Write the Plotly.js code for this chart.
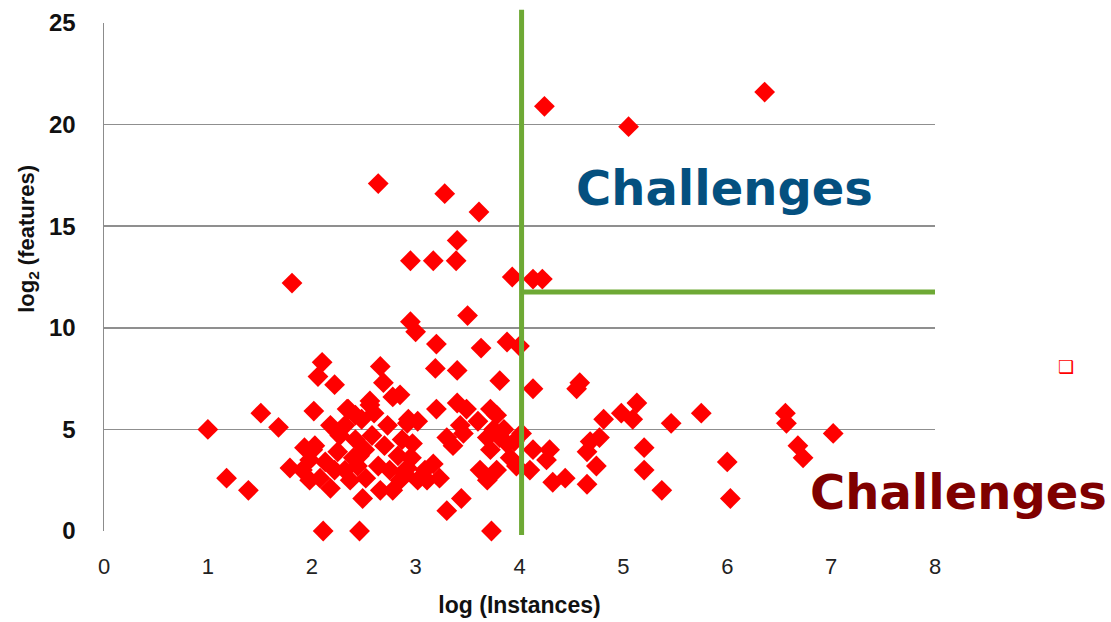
<!DOCTYPE html>
<html>
<head>
<meta charset="utf-8">
<script src="https://cdn.plot.ly/plotly-3.0.1.min.js"></script>
<style>html,body{margin:0;padding:0;background:#fff;}#chart{width:1111px;height:622px;}</style>
</head>
<body>
<div id="chart"></div>
<script>
// log(Instances)
var logInstances = [
  6.36, 4.24, 5.05, 2.64, 3.28, 3.61, 3.40, 1.81, 2.95, 3.17, 3.39, 3.93, 4.13, 4.22,
  2.95, 3.00, 3.50, 3.20, 3.63, 3.88, 4.00, 2.10, 2.06, 2.22, 1.51, 1.00, 1.68, 2.02,
  1.18, 1.39, 2.11, 2.46, 2.49, 2.66, 2.69, 2.78, 3.19, 3.40, 3.81, 4.13, 4.55, 4.58,
  5.13, 4.98, 5.09, 4.81, 4.77, 4.68, 4.65, 4.74, 5.46, 5.75, 6.56, 6.57, 6.68, 6.73,
  7.02, 5.20, 5.20, 5.37, 6.00, 6.03, 4.29, 4.26, 4.13, 4.10, 4.32, 4.44, 4.65, 3.73,
  3.30, 3.44, 2.18, 1.91, 2.01, 1.98, 2.78, 2.56, 2.34, 3.20, 3.40, 3.49, 3.72, 2.92,
  3.02, 3.30, 3.36, 3.46, 3.43, 3.69, 3.72, 3.81, 3.88, 3.91, 3.62, 3.69, 3.78, 3.97,
  2.95, 2.97, 2.92, 2.85, 3.17, 3.11, 3.23, 2.85, 3.78,
  1.79, 1.93, 2.03, 1.98, 2.08, 2.13, 2.22, 2.25, 2.27, 2.32, 2.35, 2.42, 2.44, 2.48,
  2.51, 2.52, 2.58, 2.64, 2.66, 2.70, 2.73, 2.75, 2.83, 2.87, 2.90, 2.93, 2.96, 3.02,
  3.09, 2.56, 2.42, 2.18, 2.37, 2.32, 2.46, 3.95, 4.02, 3.85, 3.60, 3.75, 2.60, 2.40
];
// log2(features)
var log2Features = [
  21.6, 20.9, 19.9, 17.1, 16.6, 15.7, 14.3, 12.2, 13.3, 13.3, 13.3, 12.5, 12.4, 12.4,
  10.3, 9.8, 10.6, 9.2, 9.0, 9.3, 9.1, 8.3, 7.6, 7.2, 5.8, 5.0, 5.1, 5.9,
  2.6, 2.0, 0.0, 0.0, 1.6, 8.1, 7.3, 6.6, 8.0, 7.9, 7.4, 7.0, 7.0, 7.3,
  6.3, 5.8, 5.5, 5.5, 4.6, 4.4, 3.9, 3.2, 5.3, 5.8, 5.8, 5.3, 4.2, 3.6,
  4.8, 4.1, 3.0, 2.0, 3.4, 1.6, 4.0, 3.5, 4.0, 3.0, 2.4, 2.6, 2.3, 0.0,
  1.0, 1.6, 2.1, 3.0, 4.0, 2.5, 2.0, 6.4, 6.0, 6.0, 6.3, 6.0, 6.0, 5.3,
  5.4, 4.6, 4.2, 4.8, 5.2, 4.6, 4.0, 4.6, 4.3, 3.6, 3.0, 2.5, 3.0, 3.2,
  3.6, 4.3, 3.1, 2.5, 3.3, 2.5, 2.6, 6.7, 5.7,
  3.1, 4.1, 4.2, 3.5, 2.6, 3.4, 3.0, 3.9, 4.7, 5.2, 6.0, 4.5, 3.2, 5.5,
  4.0, 2.6, 4.7, 3.2, 2.0, 4.2, 5.2, 3.0, 3.7, 4.5, 2.8, 5.5, 3.6, 2.5,
  3.0, 6.2, 5.7, 5.2, 2.5, 3.0, 3.7, 4.4, 4.8, 5.0, 5.4, 5.0, 5.8, 3.6
];
var xTicks = [0, 1, 2, 3, 4, 5, 6, 7, 8];
var yTicks = [0, 5, 10, 15, 20, 25];
var splitX = 4.02;
var splitY = 11.76;
var xMax = 8.02;
var labels = ["Challenges", "Challenges"];

var trace = {
  type: 'scatter', mode: 'markers',
  x: logInstances, y: log2Features,
  marker: {symbol: 'diamond', size: 16, color: '#ff0000', line: {width: 0}},
  cliponaxis: false, hoverinfo: 'x+y'
};

var layout = {
  width: 1111, height: 622,
  margin: {l: 104, r: 176, t: 23, b: 91},
  paper_bgcolor: '#ffffff', plot_bgcolor: '#ffffff',
  showlegend: false,
  xaxis: {
    range: [0, 8], tickvals: xTicks, ticktext: xTicks.map(String),
    showgrid: false, zeroline: false, showline: false, ticks: '',
    ticklabelstandoff: 20,
    tickfont: {family: 'Liberation Sans, Arial, sans-serif', size: 22, color: '#222'},
    title: {text: 'log (Instances)', standoff: 18,
      font: {family: 'Liberation Sans, Arial, sans-serif', size: 23, color: '#111', weight: 'bold'}}
  },
  yaxis: {
    range: [0, 25], tickvals: yTicks, ticktext: yTicks.map(String),
    showgrid: true, gridcolor: '#8f8f8f', gridwidth: 1.5,
    zeroline: false, showline: true, linecolor: '#8c8c8c', linewidth: 1.5,
    ticks: '', ticklabelstandoff: 22,
    tickfont: {family: 'Liberation Sans, Arial, sans-serif', size: 24, color: '#111', weight: 'bold'}
  },
  shapes: [
    {type: 'line', xref: 'x', yref: 'paper', x0: splitX, x1: splitX, y0: -0.008, y1: 1.026,
     line: {color: '#6ea935', width: 5}},
    {type: 'line', xref: 'x', yref: 'y', x0: splitX, x1: xMax, y0: splitY, y1: splitY,
     line: {color: '#6ea935', width: 5}}
  ],
  annotations: [
    {xref: 'paper', yref: 'paper', x: -0.0915, y: 0.575, xanchor: 'center', yanchor: 'middle',
     textangle: -90, showarrow: false,
     text: 'log<sub>2</sub> (features)',
     font: {family: 'Liberation Sans, Arial, sans-serif', size: 22, color: '#111', weight: 'bold'}},
    {xref: 'paper', yref: 'paper', x: 0.747, y: 0.675, xanchor: 'center', yanchor: 'middle',
     showarrow: false, text: labels[0],
     font: {family: 'DejaVu Sans, sans-serif', size: 48, color: '#04507f', weight: 'bold'}},
    {xref: 'paper', yref: 'paper', x: 1.028, y: 0.077, xanchor: 'center', yanchor: 'middle',
     showarrow: false, text: labels[1],
     font: {family: 'DejaVu Sans, sans-serif', size: 48, color: '#7f0000', weight: 'bold'}},
    {xref: 'paper', yref: 'paper', x: 1.158, y: 0.323, xanchor: 'center', yanchor: 'middle',
     showarrow: false, text: '❑',
     font: {family: 'DejaVu Sans, sans-serif', size: 18, color: '#ff0000'}}
  ]
};

Plotly.newPlot('chart', [trace], layout, {displayModeBar: false, staticPlot: true});
</script>
</body>
</html>
